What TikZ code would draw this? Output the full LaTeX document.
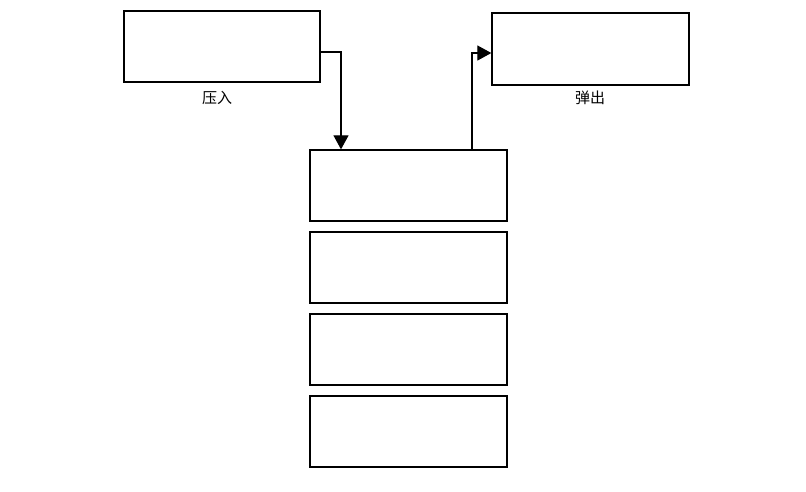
\documentclass[tikz,border=0pt]{standalone}
\usepackage{fontspec}
\newfontfamily\cjk{Noto Sans CJK SC}
\usepackage{tikz}
\usetikzlibrary{arrows.meta,positioning}
\tikzset{cell/.style={draw, line width=1.3pt, inner sep=0pt,
  minimum width=196pt, minimum height=71pt}}
\tikzset{arr/.style={draw, line width=1.2pt, -{Triangle[width=15pt,length=14pt]}}}
\tikzset{lbl/.style={font=\cjk\fontsize{15}{17}\selectfont}}

\begin{document}
\begin{tikzpicture}[x=1pt,y=-1pt]
        \useasboundingbox (0,0) rectangle (806,491);
        %% push / pop boxes
        \node (push) at (222,46.5) [cell] {};
        \node (pop) at (590.5,49) [cell, minimum width=197pt, minimum height=72pt] {};
        \node (pushlbl) at (217,98) [lbl] {压入};
        \node (poplbl) at (590,98) [lbl] {弹出};
        %% stack
        \foreach \i [evaluate=\i as \yy using 185.5+82*(\i-1)] in {1,...,4}
            \node (s\i) at (408.5,\yy) [cell, minimum width=197pt] {};
        \draw [arr] (push.east |- 0,52) -| ([xshift=-67.5pt]s1.north);
        \draw [arr] ([xshift=63.5pt]s1.north) |- ([yshift=-4pt]pop.west);
\end{tikzpicture}
\end{document}
